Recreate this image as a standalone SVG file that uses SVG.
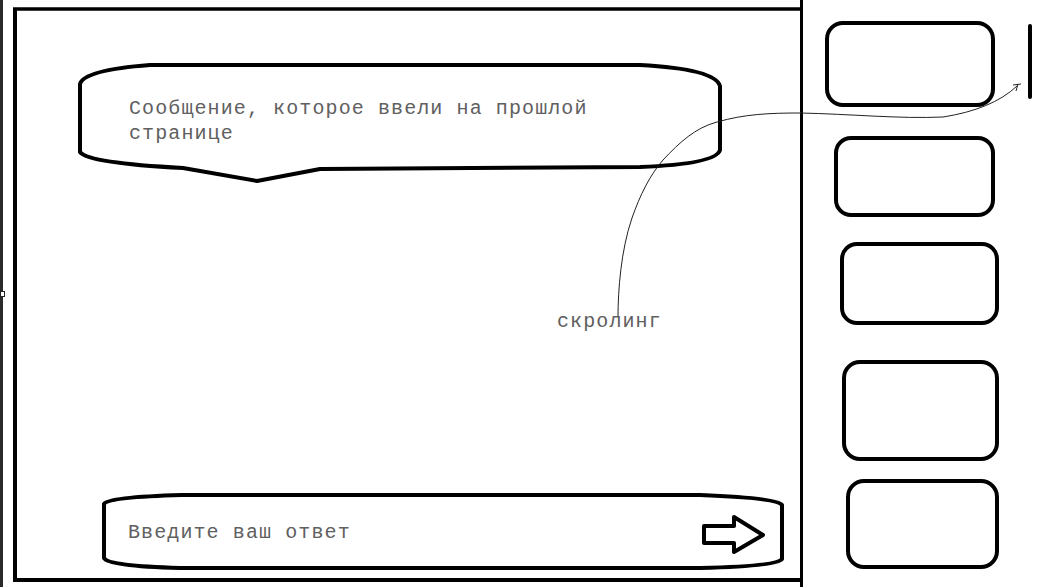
<svg xmlns="http://www.w3.org/2000/svg" width="1043" height="587" viewBox="0 0 1043 587">
<style>
.thick{fill:none;stroke:#000;stroke-width:4;stroke-linejoin:round}
.box{fill:none;stroke:#000;stroke-width:4}
.txt{font-family:"Liberation Mono","Courier New",monospace;font-size:20px;letter-spacing:1.1px;fill:#606060}
.thin{fill:none;stroke:#222;stroke-width:1}
</style>
<rect width="1043" height="587" fill="#fff"/>
<g id="edge">
<rect x="0" y="0" width="3" height="587" fill="#2a2a2a"/>
<rect x="0.5" y="291.5" width="4" height="5" fill="#fff" stroke="#222" stroke-width="1"/>
</g>
<g id="frame">
<line x1="13" y1="9" x2="803" y2="9" stroke="#000" stroke-width="3.5"/>
<line x1="15" y1="9" x2="15" y2="582" stroke="#000" stroke-width="4"/>
<line x1="13" y1="580" x2="803" y2="580" stroke="#000" stroke-width="4"/>
<line x1="801.5" y1="0" x2="801.5" y2="587" stroke="#000" stroke-width="3"/>
</g>
<g id="message">
<path class="thick" d="M150,65 L640,65 Q715,69 720,86 L720,150 Q716,164 640,167 L320,169 L257,181 L183,168 Q88,163 80,152 L80,84 Q84,70 150,65 Z"/>
<text class="txt" x="129" y="114">Сообщение, которое ввели на прошлой</text>
<text class="txt" x="129" y="139">странице</text>
</g>
<g id="input">
<path class="thick" d="M182,495 L700,495 Q778,498 782,505 L782,559 Q778,566 700,568 L180,568 Q108,566 104,558 L104,504 Q108,497 182,495 Z"/>
<text class="txt" x="128" y="538">Введите ваш ответ</text>
<path class="thick" d="M704,526 L734,526 L734,517 L763,535 L734,552 L734,543 L704,543 Z" stroke-width="3.5"/>
</g>
<g id="box1"><rect class="box" x="827" y="23" width="166" height="82" rx="16"/></g>
<g id="box2"><rect class="box" x="836" y="138" width="157" height="77" rx="15"/></g>
<g id="box3"><rect class="box" x="842" y="244" width="155" height="79" rx="15"/></g>
<g id="box4"><rect class="box" x="844" y="362" width="153" height="97" rx="16"/></g>
<g id="box5"><rect class="box" x="848" y="481" width="149" height="86" rx="16"/></g>
<g id="scrollbar"><line x1="1030" y1="26" x2="1030" y2="97" stroke="#000" stroke-width="4" stroke-linecap="round"/></g>
<g id="connectors">
<path class="thin" d="M618,317 C618,290 621,250 632,218 C640,195 650,175 663,160 C680,142 695,128 717,122 C745,114 770,113 800,113 C850,114 900,119 943,117 C975,112 1000,102 1017,86"/>
<path class="thin" d="M1013,85 L1021,84 M1018,84 L1016,91"/>
</g>
<g id="label"><text class="txt" x="557" y="327">скролинг</text></g>
</svg>
